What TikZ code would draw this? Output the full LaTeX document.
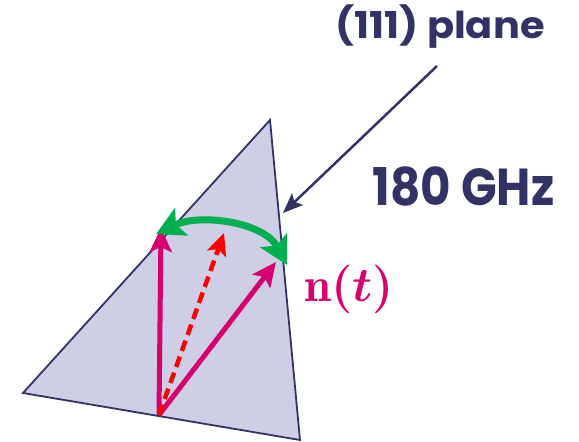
\documentclass[tikz,border=0pt]{standalone}
\usepackage{amsmath}
\usepackage{fontspec}
\setsansfont{Poppins}
\usetikzlibrary{arrows.meta}
\definecolor{navy}{RGB}{50,50,100}
\definecolor{lav}{RGB}{206,206,230}
\definecolor{magc}{RGB}{214,0,110}
\definecolor{grn}{RGB}{0,176,80}
\definecolor{rd}{RGB}{255,0,0}
\newcommand{\planefont}{\sffamily\bfseries\fontsize{37}{42}\selectfont}
\newcommand{\ghzfont}{\sffamily\bfseries\fontsize{52}{60}\selectfont}
\newcommand{\ntfont}{\Huge}
\newcommand{\nttext}{\scalebox{1.95}{\ensuremath{\mathbf{n}\boldsymbol{(t)}}}}
\tikzset{
  vec/.style={draw=magc,line width=5pt,-{Stealth[length=24pt,width=22pt,inset=5pt]}},
  dvec/.style={draw=rd,line width=4.5pt,dash pattern=on 11pt off 6pt,-{Stealth[length=22pt,width=20pt,inset=5pt]}},
  arcv/.style={draw=grn,line width=7pt,{Stealth[length=28pt,width=30pt,inset=6pt]}-{Stealth[length=28pt,width=30pt,inset=6pt]}},
  lbl/.style={text=navy,inner sep=0pt},
}
\begin{document}
\begin{tikzpicture}[x=1pt,y=-1pt]
\useasboundingbox (0,0) rectangle (579,442);
\coordinate (T) at (270,120);
\coordinate (L) at (23,393);
\coordinate (R) at (300,440);
\filldraw[fill=lav,draw=navy,line width=1.8pt,line join=miter] (T) -- (L) -- (R) -- cycle;
\coordinate (O) at (159,415);
\coordinate (A) at (161,228);
\coordinate (B) at (276,262);
\coordinate (C) at (224,233);
\coordinate (GL) at (156,234);
\coordinate (GR) at (287,265);
\draw[vec] (O) -- (A);
\draw[vec] (O) -- (B);
\draw[dvec] (O) -- (C);
\draw[arcv] (GR) .. controls (264,222) and (200,213) .. (GL);
\node[lbl,font=\planefont] (plane) at (440,27) {\scalebox{1.08}[1]{(111) plane}};
\node[lbl,font=\ghzfont] (ghz) at (463.5,186.5) {\scalebox{0.9}[1]{180 GHz}};
\coordinate (P) at (283,213);
\coordinate (S) at (437,66);
\draw[navy,line width=2.5pt,-{Stealth[length=20pt,width=16pt,inset=4pt]}] (S) -- (P);
\node[text=magc,font=\ntfont,inner sep=0pt] (nt) at (349,289) {\nttext};
\end{tikzpicture}
\end{document}
